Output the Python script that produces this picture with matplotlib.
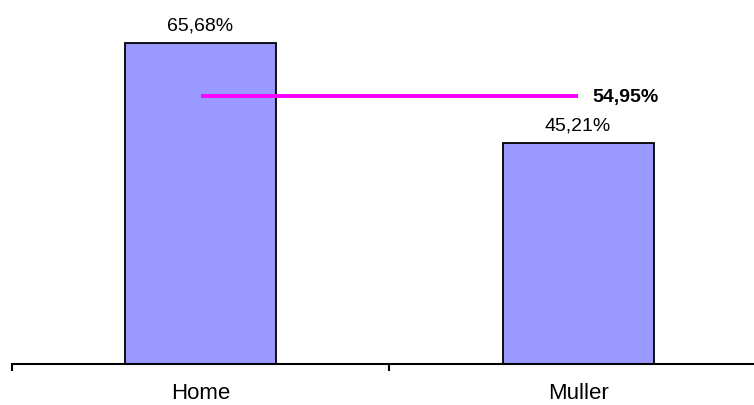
import matplotlib
matplotlib.use("Agg")
import matplotlib.pyplot as plt

categories = ["Home", "Muller"]
values = [65.68, 45.21]
value_labels = ["65,68%", "45,21%"]
average = 54.95
average_label = "54,95%"

plt.rcParams['font.family'] = ['Liberation Sans', 'DejaVu Sans']

fig = plt.figure(figsize=(7.54, 4.05), dpi=100)
W, H = 754, 405
ax = fig.add_axes([11.75 / W, 41 / H, 755 / W, 342 / H])

x = list(range(len(categories)))
ax.bar(x, values, width=0.4, color="#9999FF", edgecolor="black", linewidth=1.3, zorder=2)

for xi, v, lab in zip(x, values, value_labels):
    ax.annotate(lab, (xi, v), xytext=(0, 9), textcoords="offset points",
                ha="center", va="baseline", fontsize=14, color="black")

ax.plot([x[0], x[-1]], [average, average], color="#FF00FF", linewidth=2.8, zorder=3,
        solid_capstyle="butt")
ax.annotate(average_label, (x[-1], average), xytext=(10.5, -1.5), textcoords="offset points",
            ha="left", va="center", fontsize=14, fontweight="bold", color="black")

ax.set_xlim(-0.5, len(categories) - 0.5)
ax.set_ylim(0, 70)

for s in ["top", "right", "left"]:
    ax.spines[s].set_visible(False)
ax.spines["bottom"].set_linewidth(1.5)
ax.set_yticks([])

ax.set_xticks([-0.5, 0.5, 1.5])
ax.set_xticklabels([])
ax.tick_params(axis="x", which="major", length=5, width=1.5, direction="out")
ax.set_xticks(x, minor=True)
ax.set_xticklabels(categories, minor=True, fontsize=16)
ax.tick_params(axis="x", which="minor", length=0, pad=14)

fig.savefig("out.png", dpi=100)
